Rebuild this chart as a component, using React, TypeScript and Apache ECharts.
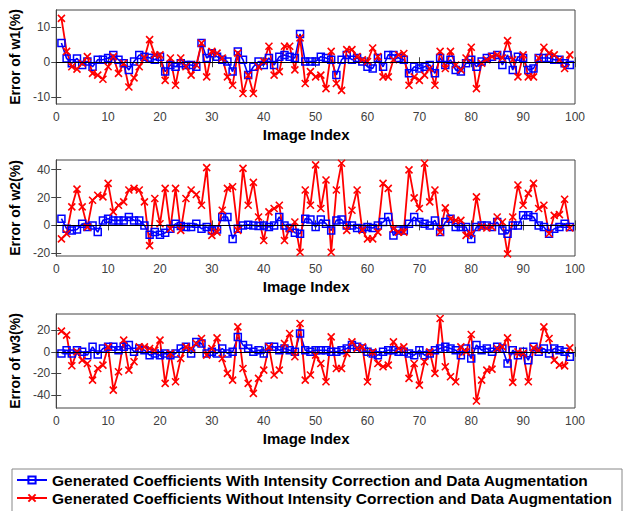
import React, { useEffect, useRef } from "react";
import * as echarts from "echarts";

const legendNames = [
  "Generated Coefficients With Intensity Correction and Data Augmentation",
  "Generated Coefficients Without Intensity Correction and Data Augmentation",
];
const yNames = ["Error of w1(%)", "Error of w2(%)", "Error of w3(%)"];
const xName = "Image Index";

const w1Blue = [
  5.5, 1.1, -0.3, 1.1, -0.8, 0.2, -1.3, 0.7, 0.7, 1.2, 2.1, 0.7, -0.3, -2.2, 0.2, 2.1, 1.6, 1.3, 0.7, 1.6, -2.7, -0.8, -1.3, -0.3, -0.8, -0.8, -1.3, 5.5, 1.2, 2.6, 1.6, 0.7, 0.2,
  -2.7, 3.1, 0.7, -3.7, -1.3, 0.2, -0.8, 1.2, -0.8, 1.6, 2.1, 1.6, 1.2, 8.1, 0.2, 0.2, 0.2, 1.6, 1.2, 0.7, -3.7, 0.7, 2.1, 0.7, 1.2, 0.2, -1.3, -1.8, 1.2, -1.3, 2.1, 2.1, 1.2, 0.7,
  -3.2, -1.3, -1.8, -1.3, -0.8, -3.2, 1.2, -0.8, 0.7, -2.2, -2.7, -0.3, 0.7, -1.3, 0.2, 1.2, 1.6, 2.1, -0.8, 2.1, -2.2, 1.6, 1.2, -2.2, -1.8, 1.2, 1.2, 1.2, 0.7, 0.7, -0.3, -0.8,
];
const w1Red = [
  12.6, 3.1, -1.3, -2.0, -0.3, 1.6, -3.2, -3.7, -4.9, -1.3, 1.6, -3.2, -0.3, -7.1, -4.5, -1.3, 1.2, 6.5, 2.1, 2.1, -5.2, 1.2, -6.6, 1.2, -1.3, -3.7, -0.8, 5.5, -4.2, 3.1, 2.6, 1.2, -4.2,
  -6.6, 2.6, -9.0, -3.7, -9.0, -1.3, 0.2, 4.6, -3.7, -2.7, 4.6, 4.6, -2.2, 7.0, -6.1, -2.7, -4.2, -3.7, -7.6, 3.1, -6.1, -8.1, 3.6, 3.6, 1.6, 0.7, 0.2, 4.1, 1.6, -4.2, -4.2, 0.7, 2.1, 2.5,
  -6.6, -4.2, -5.2, -3.7, -1.8, -6.6, 3.1, -1.8, 3.1, -0.8, -2.2, 1.2, 4.3, -7.6, -0.3, 0.7, 1.6, 2.1, 1.2, 6.2, 0.7, -4.2, 2.1, -4.2, -4.2, 1.2, 4.3, 2.6, 2.1, 0.7, -1.8, 2.1,
];
const w2Blue = [
  4.8, -2.4, -3.6, -2.9, 1.2, -1.2, 0, -4.8, 3.6, 4.8, 3.6, 3.6, 3.6, 6.0, 3.6, 3.6, 0, -6.8, -4.8, -6.8, -5.3, -2.4, 1.2, -0.5, -1.2, -1.2, 1.2, -2.4, -1.2, -3.6, -2.9, 6.0, 6.0,
  -9.7, -2.4, 0, 0.5, 0, -0.5, 0, -1.2, 0, 6.0, 0, -1.9, -5.3, -6.0, 4.8, 4.3, -1.2, 4.3, 1.2, -3.6, 3.6, 4.3, 0, 0, -1.9, -2.4, -1.2, -1.9, 0, 2.4, 6.0, -7.2, -3.6,
  -3.6, 1.2, 6.0, 2.4, 1.2, 0, 3.6, -4.8, 2.4, 4.8, -1.2, -1.2, -1.2, -9.7, -1.2, 0, 0, -1.2, 2.4, -3.6, -6.0, 0, 0, 7.2, 7.2, 6.0, 0, -1.2, -6.0, -2.4, -1.2, 1.2, -1.2,
];
const w2Red = [
  -9.7, -6.0, 13.3, 26.1, 13.3, -1.2, 18.1, 21.7, 20.5, 30.2, 9.7, 14.5, 16.9, 25.4, 26.6, 25.4, 16.9, -14.5, 19.3, 1.2, 26.6, -2.4, 26.6, -3.6, 19.3, 25.4, 22.2, 14.5, 41.5, -7.2, -4.8, 10.9, 26.6,
  27.8, -3.6, 41, 14.5, 30.9, 6.0, -10.9, 9.7, 12.1, 14.5, -10.9, -2.4, 2.4, -19.3, 25.4, 14.5, 43.5, 12.1, 32.6, -19.3, 25.4, 44.7, -3.6, 10.9, 25.4, -3.6, -9.7, -9.7, -4.8, 30.2, 26.6, -2.4, -4.8,
  -4.8, 39.9, 19.8, 12.1, 44.7, 16.9, 25.4, -4.8, 12.6, 4.8, 3.6, 3.6, -7.2, -6.0, 20.5, -1.2, -1.9, -1.2, 6.0, 2.4, -20.5, 6.0, 29.0, 14.5, 23.0, 30.2, 12.1, 14.5, -6.0, 7.2, 7.7, 18.8, -1.9,
];
const w3Blue = [
  -1.5, 1.5, -1.5, 1.5, 0, -3.1, 4.6, -2.5, 3.1, 4.6, 4.6, 1.5, 4.6, 6.2, 0, 3.1, 1.5, -3.1, -1.5, -3.1, -1.5, -3.1, -1.5, 3.1, 4.6, -1.5, 9.2, 7.7, -1.5, 0, -1.5, 3.1, -1.5,
  0, 13.8, 6.2, 3.1, 0, 1.5, -1.5, 4.6, 4.6, 1.5, 3.1, 1.5, 0, 16.9, 1.5, 0, 1.5, 1.5, 1.5, 0, 0, 1.5, 3.1, 6.2, 4.6, 3.1, 0, -1.5, -3.1, 0, 1.5, 1.5, 0,
  0, -1.5, -3.1, 1.5, -3.1, -1.5, 1.5, 3.1, 4.6, 3.1, 1.5, -3.1, 3.1, -6.2, 6.2, 1.5, 3.1, 0, 4.6, 3.1, -10.8, 1.5, -3.1, 0, -7.7, 4.6, 0, 3.1, -1.5, 3.1, 1.5, 0, -4.6,
];
const w3Red = [
  19.1, 15.4, -12.9, 0, -7.7, -10.8, -26.2, -15.4, -12.3, 4.6, -35.4, -18.5, 10.8, -16.9, -9.2, 4.6, 4.6, 3.1, 1.5, 10.8, -29.2, -1.5, -27.7, -6.2, 4.6, 3.1, 7.7, 12.3, -3.1, 3.1, 12.9, -6.2, -20,
  -26.2, 23.1, -15.4, -29.2, -38.5, -24.6, -16.9, 4.6, -21.5, -16.9, 7.7, 16.9, -4.6, 26.2, -26.2, -21.5, -3.1, -10.8, -27.7, 13.8, -15.4, -15.4, -1.5, 9.2, 3.1, 4.6, -27.7, 0, -10.8, -13.8, -12.3, 9.2, 3.1,
  4.6, -24.6, -10.8, -30.8, -9.2, 0, -20, 30.8, -13.8, -23.1, -27.7, 4.6, 0, 16, -45.5, -26.2, -16.9, -16, 3.1, 4.6, 12.9, -28.3, 0, -1.5, -27.7, 3.7, 1.5, 23.1, 12.3, -7.7, -12.3, -13, 3.7,
];

const blueSets = [w1Blue, w2Blue, w3Blue];
const redSets = [w1Red, w2Red, w3Red];
const yTicks = [
  [-10, 0, 10],
  [-20, 0, 20, 40],
  [-40, -20, 0, 20],
];
const yRanges = [
  [-12, 15],
  [-22, 47],
  [-52, 35],
];
const xRange = [0, 100];

const FONT = "Liberation Sans, Arial, Helvetica, sans-serif";
const AX = "#444";
const TICK_TXT = "#404040";

export default function App() {
  const ref = useRef<HTMLDivElement>(null);
  useEffect(() => {
    if (!ref.current) return;
    const chart = echarts.init(ref.current, undefined, { renderer: "svg" });
    const tops = [10, 160, 314];
    const heights = [94, 96, 94];
    const grids = tops.map((t, i) => ({
      left: 55,
      top: t,
      width: 520,
      height: heights[i],
      show: true,
      borderColor: AX,
      borderWidth: 1,
      backgroundColor: "#fff",
    }));
    const xAxes: any[] = [];
    const yAxes: any[] = [];
    const series: any[] = [];
    for (let i = 0; i < 3; i++) {
      xAxes.push({
        type: "value",
        gridIndex: i,
        position: "bottom",
        min: xRange[0],
        max: xRange[1],
        interval: 10,
        axisLine: { show: true, lineStyle: { color: AX } },
        axisTick: { show: true, inside: true, length: 5, lineStyle: { color: AX } },
        axisLabel: { fontSize: 12, color: TICK_TXT, margin: 7, fontFamily: FONT },
        splitLine: { show: false },
        name: xName,
        nameLocation: "middle",
        nameGap: 23,
        nameTextStyle: {
          fontSize: 15,
          fontWeight: "bold",
          color: "#000",
          fontFamily: FONT,
          padding: [0, 19, 0, 0],
        },
      });
      xAxes.push({
        type: "value",
        gridIndex: i,
        position: "top",
        min: xRange[0],
        max: xRange[1],
        interval: 10,
        axisLine: { show: true, lineStyle: { color: AX } },
        axisTick: { show: true, inside: true, length: 5, lineStyle: { color: AX } },
        axisLabel: { show: false },
        splitLine: { show: false },
      });
      yAxes.push({
        type: "value",
        gridIndex: i,
        position: "left",
        min: yRanges[i][0],
        max: yRanges[i][1],
        axisLine: { show: true, lineStyle: { color: AX } },
        axisTick: { show: true, inside: true, length: 5, customValues: yTicks[i], lineStyle: { color: AX } },
        axisLabel: { fontSize: 12, color: TICK_TXT, margin: 6, customValues: yTicks[i], fontFamily: FONT },
        splitLine: { show: false },
        name: yNames[i],
        nameLocation: "middle",
        nameGap: 27,
        nameRotate: 90,
        nameTextStyle: { fontSize: 14, fontWeight: "bold", color: "#000", fontFamily: FONT },
      });
      yAxes.push({
        type: "value",
        gridIndex: i,
        position: "right",
        min: yRanges[i][0],
        max: yRanges[i][1],
        axisLine: { show: true, lineStyle: { color: AX } },
        axisTick: { show: true, inside: true, length: 5, customValues: yTicks[i], lineStyle: { color: AX } },
        axisLabel: { show: false, customValues: yTicks[i] },
        splitLine: { show: false },
      });
      series.push({
        type: "line",
        name: legendNames[0],
        xAxisIndex: 2 * i,
        yAxisIndex: 2 * i,
        data: blueSets[i].map((v, k) => [k + 1, v]),
        color: "#0000ff",
        symbol: "rect",
        symbolSize: 7,
        showSymbol: true,
        lineStyle: { color: "#0000ff", width: 1.6 },
        itemStyle: { color: "rgba(255,255,255,0)", borderColor: "#0000ff", borderWidth: 1.5 },
        markLine: {
          silent: true,
          symbol: "none",
          label: { show: false },
          lineStyle: { color: "#000", width: 1, type: "solid" },
          data: [{ yAxis: 0 }],
        },
      });
      series.push({
        type: "line",
        name: legendNames[1],
        xAxisIndex: 2 * i,
        yAxisIndex: 2 * i,
        data: redSets[i].map((v, k) => [k + 1, v]),
        color: "#ff0000",
        symbol: "path://M0,0L10,10M10,0L0,10",
        symbolSize: 7,
        showSymbol: true,
        lineStyle: { color: "#ff0000", width: 1.8 },
        itemStyle: { color: "#ff0000", borderColor: "#ff0000", borderWidth: 1.6 },
      });
    }
    chart.setOption({
      animation: false,
      backgroundColor: "#fff",
      textStyle: { fontFamily: FONT },
      grid: grids,
      xAxis: xAxes,
      yAxis: yAxes,
      series,
      legend: {
        data: legendNames,
        orient: "vertical",
        left: 14,
        top: 470,
        padding: 2,
        itemWidth: 30,
        itemHeight: 9,
        itemGap: 2,
        textStyle: { fontSize: 15.5, fontWeight: "bold", color: "#000", fontFamily: FONT, lineHeight: 16 },
      },
      graphic: [
        {
          type: "rect",
          shape: { x: 12, y: 469, width: 610, height: 60 },
          style: { fill: "none", stroke: "#888", lineWidth: 1 },
          silent: true,
        },
      ],
    });
    return () => chart.dispose();
  }, []);
  return (
    <div
      ref={ref}
      style={{ position: "absolute", left: 0, top: 0, width: 628, height: 511 }}
    />
  );
}
